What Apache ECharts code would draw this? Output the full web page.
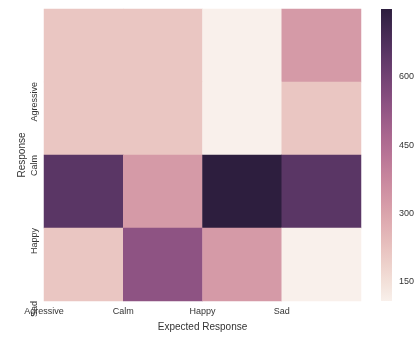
<!DOCTYPE html>
<html>
<head>
<meta charset="utf-8">
<script src="https://cdn.jsdelivr.net/npm/echarts@6/dist/echarts.min.js"></script>
<style>
  html, body { margin: 0; padding: 0; background: #fff; }
  #chart { width: 417px; height: 338px; }
</style>
</head>
<body>
<div id="chart"></div>
<script>
// Columns: expected response; rows: given response
const expected = ['Agressive', 'Calm', 'Happy', 'Sad'];
const responses = ['Agressive', 'Calm', 'Happy', 'Sad'];

// Counts per row (response), one value per expected column
const rowAgressive = [216, 216, 108, 325];
const rowCalm      = [216, 216, 108, 216];
const rowHappy     = [650, 325, 749, 650];
const rowSad       = [216, 536, 325, 108];
const counts = [rowAgressive, rowCalm, rowHappy, rowSad];

const colorbarTicks = [150, 300, 450, 600];

const FONT = 'Liberation Sans';
const TEXT = '#333';

const flat = counts.flat();
const vmin = Math.min(...flat);
const vmax = Math.max(...flat);

// seaborn-style cubehelix ramp (start=0, rot=.4, hue=.8), light=.95 -> dark=.15
function cubehelix(x) {
  const a = 0.8 * x * (1 - x) / 2;
  const phi = 2 * Math.PI * (0.4 * x);
  const c = Math.cos(phi), s = Math.sin(phi);
  const ch = (p0, p1) => Math.round(255 * Math.min(1, Math.max(0, x + a * (p0 * c + p1 * s))));
  return 'rgb(' + ch(-0.14861, 1.78277) + ',' + ch(-0.29227, -0.90649) + ',' + ch(1.97294, 0) + ')';
}
const STEPS = 40;
const ramp = [];
for (let i = 0; i <= STEPS; i++) ramp.push(cubehelix(0.95 - 0.8 * i / STEPS));
const rampStops = ramp.map((color, i) => ({ offset: i / STEPS, color }));

const cells = [];
counts.forEach((row, r) => row.forEach((v, c) => cells.push([c, r, v])));

const chart = echarts.init(document.getElementById('chart'), null, { renderer: 'canvas' });
chart.setOption({
  animation: false,
  backgroundColor: '#fff',
  textStyle: { fontFamily: FONT, color: TEXT },
  grid: [
    { left: 44, top: 9, width: 317, height: 292 },
    { left: 381, top: 9, width: 13, height: 292 }
  ],
  xAxis: [
    {
      type: 'category', gridIndex: 0, data: expected, position: 'bottom',
      axisLine: { show: false }, axisTick: { show: false },
      axisLabel: { show: false }, splitLine: { show: false }
    },
    {
      type: 'value', gridIndex: 0, position: 'bottom', min: 0, max: 4, interval: 1,
      axisLine: { show: false }, axisTick: { show: false }, splitLine: { show: false },
      axisLabel: {
        fontFamily: FONT, fontSize: 9, color: TEXT, margin: 6,
        showMinLabel: true, showMaxLabel: true, hideOverlap: false,
        formatter: v => expected[v] || ''
      },
      name: 'Expected Response', nameLocation: 'middle', nameGap: 21,
      nameMoveOverlap: false,
      nameTextStyle: { fontFamily: FONT, fontSize: 10, color: TEXT }
    },
    {
      type: 'value', gridIndex: 1, min: 0, max: 1, show: false
    }
  ],
  yAxis: [
    {
      type: 'category', gridIndex: 0, data: responses, inverse: true,
      axisLine: { show: false }, axisTick: { show: false },
      axisLabel: { show: false }, splitLine: { show: false }
    },
    {
      type: 'value', gridIndex: 0, position: 'left', inverse: true,
      min: 0, max: 4, interval: 1,
      axisLine: { show: false }, axisTick: { show: false }, splitLine: { show: false },
      axisLabel: {
        fontFamily: FONT, fontSize: 9, color: TEXT, margin: 5, rotate: 90, align: 'right',
        showMinLabel: true, showMaxLabel: true, hideOverlap: false,
        formatter: v => (v > 0 ? responses[v - 1] : '')
      },
      name: 'Response', nameLocation: 'middle', nameGap: 17,
      nameMoveOverlap: false,
      nameTextStyle: { fontFamily: FONT, fontSize: 10, color: TEXT }
    },
    {
      type: 'value', gridIndex: 1, position: 'right', min: vmin, max: vmax,
      axisLine: { show: false }, axisTick: { show: false }, splitLine: { show: false },
      axisLabel: {
        fontFamily: FONT, fontSize: 9, color: TEXT, margin: 7,
        customValues: colorbarTicks
      }
    }
  ],
  visualMap: {
    type: 'continuous', min: vmin, max: vmax, seriesIndex: 0,
    show: false,
    inRange: { color: ramp }
  },
  series: [
    {
      type: 'heatmap', xAxisIndex: 0, yAxisIndex: 0, data: cells,
      itemStyle: { borderWidth: 0 },
      label: { show: false }
    },
    {
      // colour bar spanning the data range on its own value axis
      type: 'custom', xAxisIndex: 2, yAxisIndex: 2,
      data: [[vmin, vmax]],
      encode: { y: [0, 1] },
      silent: true,
      renderItem: (params, api) => {
        const lo = api.coord([0, api.value(0)]);
        const hi = api.coord([1, api.value(1)]);
        return {
          type: 'rect',
          shape: { x: lo[0], y: hi[1], width: hi[0] - lo[0], height: lo[1] - hi[1] },
          style: { fill: new echarts.graphic.LinearGradient(0, 1, 0, 0, rampStops) }
        };
      }
    }
  ]
});
</script>
</body>
</html>
